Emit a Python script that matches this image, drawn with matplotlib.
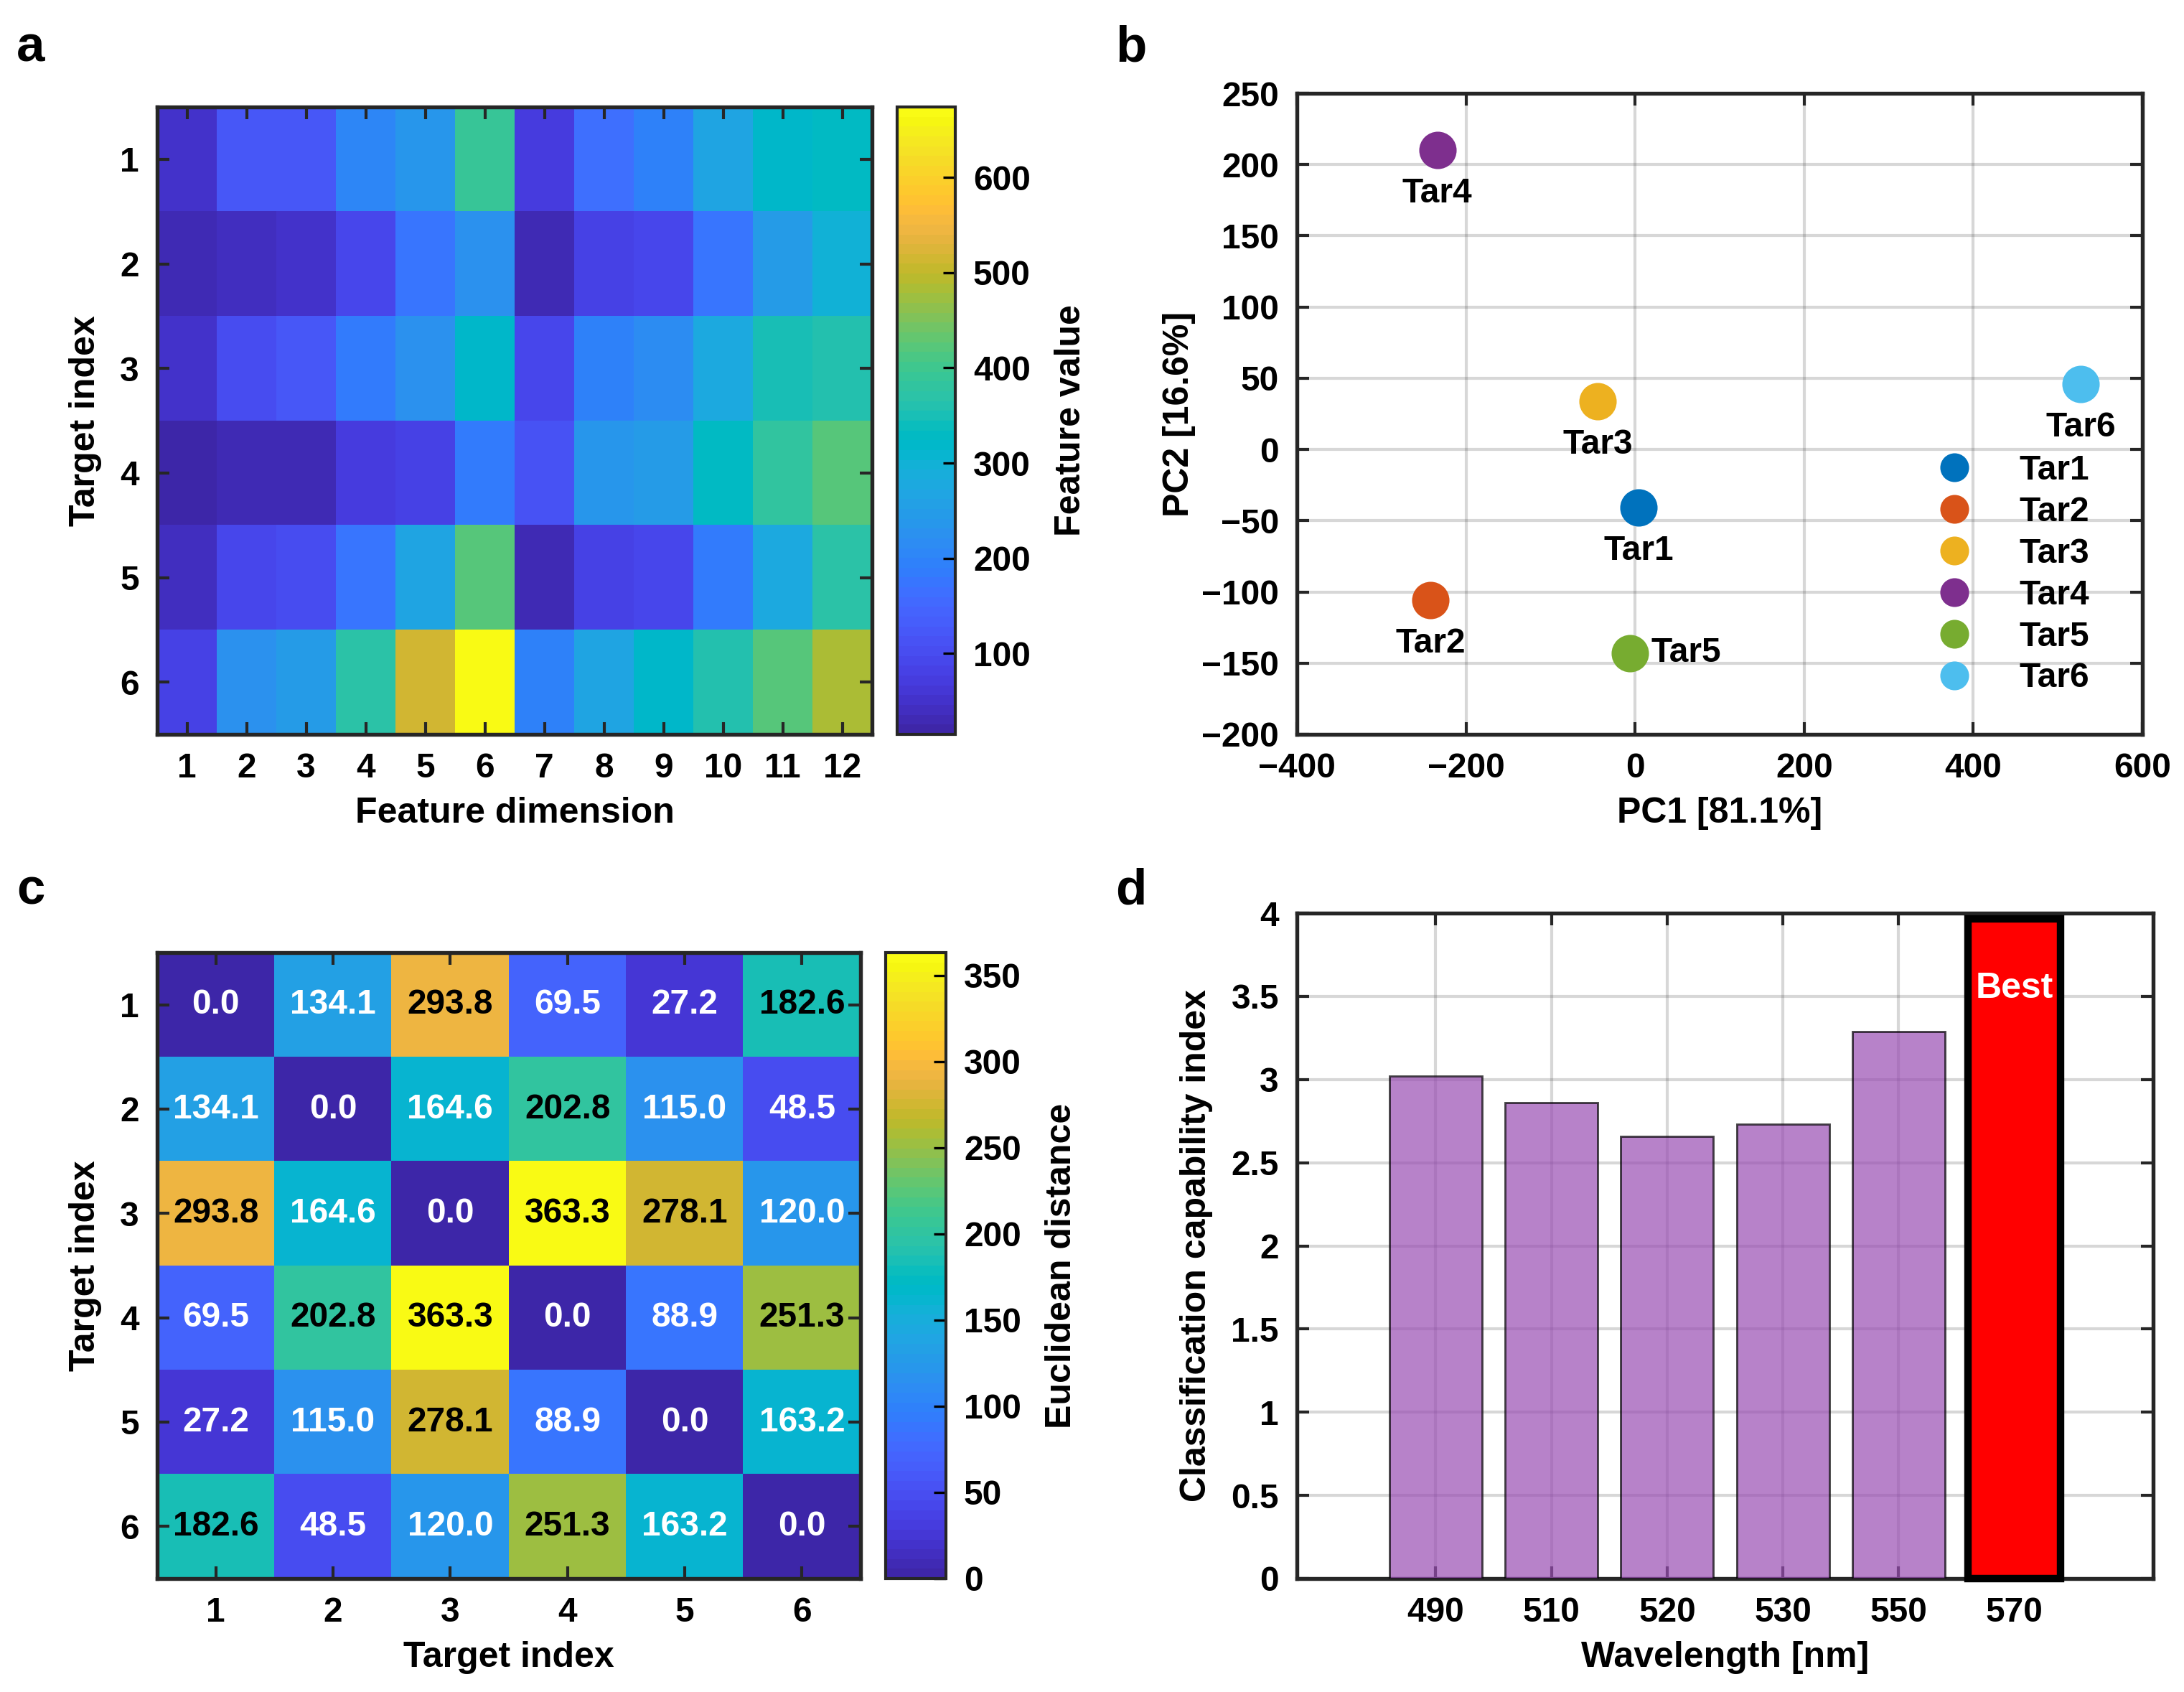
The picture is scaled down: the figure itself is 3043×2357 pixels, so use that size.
import numpy as np
import matplotlib
matplotlib.use("Agg")
import matplotlib.pyplot as plt
from matplotlib.colors import ListedColormap
from matplotlib.ticker import FuncFormatter

plt.rcParams['font.family'] = ['Liberation Sans', 'DejaVu Sans']
plt.rcParams['font.weight'] = 'bold'
plt.rcParams['axes.labelweight'] = 'bold'

# ---------------- data ----------------
feat_dims = list(range(1, 13))
target_idx = list(range(1, 7))
feature_values = [
    [55, 120, 125, 205, 240, 390, 70, 160, 195, 265, 315, 325],
    [30, 40, 50, 95, 170, 230, 30, 80, 92, 175, 245, 300],
    [50, 105, 118, 190, 225, 315, 95, 195, 215, 280, 345, 360],
    [15, 28, 33, 68, 82, 185, 115, 240, 245, 330, 385, 425],
    [42, 88, 102, 170, 270, 425, 35, 82, 92, 185, 280, 370],
    [85, 225, 250, 375, 515, 674, 200, 270, 315, 355, 425, 485],
]

pc_labels = ['Tar1', 'Tar2', 'Tar3', 'Tar4', 'Tar5', 'Tar6']
pc1 = [4, -242, -44, -234, -6, 527]
pc2 = [-41, -106, 34, 210, -143, 46]

distances = [
    [0.0, 134.1, 293.8, 69.5, 27.2, 182.6],
    [134.1, 0.0, 164.6, 202.8, 115.0, 48.5],
    [293.8, 164.6, 0.0, 363.3, 278.1, 120.0],
    [69.5, 202.8, 363.3, 0.0, 88.9, 251.3],
    [27.2, 115.0, 278.1, 88.9, 0.0, 163.2],
    [182.6, 48.5, 120.0, 251.3, 163.2, 0.0],
]

wavelengths = ['490', '510', '520', '530', '550', '570']
cci = [3.02, 2.86, 2.66, 2.73, 3.29, 3.965]

# ---------------- style ----------------
parula_rgb = [
    (0.2422, 0.1504, 0.6603), (0.2504, 0.1650, 0.7076), (0.2578, 0.1818, 0.7511),
    (0.2647, 0.1978, 0.7952), (0.2706, 0.2147, 0.8364), (0.2751, 0.2342, 0.8710),
    (0.2783, 0.2559, 0.8991), (0.2803, 0.2782, 0.9221), (0.2813, 0.3006, 0.9414),
    (0.2810, 0.3228, 0.9579), (0.2795, 0.3447, 0.9717), (0.2760, 0.3667, 0.9829),
    (0.2699, 0.3892, 0.9906), (0.2602, 0.4123, 0.9952), (0.2440, 0.4358, 0.9988),
    (0.2206, 0.4603, 0.9973), (0.1963, 0.4847, 0.9892), (0.1834, 0.5074, 0.9798),
    (0.1786, 0.5289, 0.9682), (0.1764, 0.5499, 0.9520), (0.1687, 0.5703, 0.9359),
    (0.1540, 0.5902, 0.9218), (0.1460, 0.6091, 0.9079), (0.1380, 0.6276, 0.8973),
    (0.1248, 0.6459, 0.8883), (0.1113, 0.6635, 0.8763), (0.0952, 0.6798, 0.8598),
    (0.0689, 0.6948, 0.8394), (0.0297, 0.7082, 0.8163), (0.0036, 0.7197, 0.7917),
    (0.0067, 0.7301, 0.7660), (0.0433, 0.7394, 0.7394), (0.0964, 0.7481, 0.7120),
    (0.1408, 0.7559, 0.6842), (0.1717, 0.7631, 0.6554), (0.1938, 0.7697, 0.6251),
    (0.2161, 0.7752, 0.5923), (0.2470, 0.7791, 0.5567), (0.2906, 0.7805, 0.5188),
    (0.3406, 0.7790, 0.4789), (0.3909, 0.7750, 0.4360), (0.4456, 0.7685, 0.3951),
    (0.5044, 0.7615, 0.3480), (0.5616, 0.7548, 0.3032), (0.6174, 0.7480, 0.2560),
    (0.6720, 0.7394, 0.2117), (0.7242, 0.7300, 0.1818), (0.7730, 0.7232, 0.1773),
    (0.8203, 0.7164, 0.1961), (0.8635, 0.7096, 0.2218), (0.9019, 0.7076, 0.2445),
    (0.9372, 0.7120, 0.2551), (0.9666, 0.7253, 0.2416), (0.9904, 0.7431, 0.2199),
    (0.9978, 0.7656, 0.1935), (0.9932, 0.7880, 0.1781), (0.9855, 0.8118, 0.1676),
    (0.9749, 0.8354, 0.1604), (0.9655, 0.8597, 0.1520), (0.9603, 0.8853, 0.1440),
    (0.9594, 0.9100, 0.1277), (0.9614, 0.9379, 0.1040), (0.9661, 0.9656, 0.0716),
    (0.9769, 0.9839, 0.0805),
]
parula = ListedColormap(parula_rgb, name='parula')
matlab_colors = [(0, 0.447, 0.741), (0.85, 0.325, 0.098), (0.929, 0.694, 0.125),
                 (0.494, 0.184, 0.556), (0.466, 0.674, 0.188), (0.301, 0.745, 0.933)]
spine_c = (0.15, 0.15, 0.15)
FS = 11.5

def style_axes(ax, lw=1.3):
    for s in ax.spines.values():
        s.set_linewidth(lw)
        s.set_color(spine_c)
    ax.tick_params(direction='in', top=True, right=True, length=4, width=1.0,
                   labelsize=FS, color=spine_c, pad=6)
    for lab in ax.get_xticklabels() + ax.get_yticklabels():
        lab.set_fontweight('bold')

W, H = 3043, 2357
fig = plt.figure(figsize=(W / 300, H / 300), dpi=300)

def pos(l, t, r, b):
    return [l / W, 1 - b / H, (r - l) / W, (b - t) / H]

# ---------------- panel a ----------------
axa = fig.add_axes(pos(219, 149, 1215, 1023))
fv = np.array(feature_values)
ima = axa.imshow(fv, cmap=parula, aspect='auto', vmin=fv.min(), vmax=fv.max(),
                 extent=(0.5, 12.5, 6.5, 0.5), interpolation='nearest')
axa.set_xticks(feat_dims)
axa.set_yticks(target_idx)
axa.set_xlabel('Feature dimension', fontsize=FS + 0.5, labelpad=4)
axa.set_ylabel('Target index', fontsize=FS + 0.5, labelpad=6)
style_axes(axa)
caxa = fig.add_axes(pos(1250, 149, 1331, 1023))
cba = fig.colorbar(ima, cax=caxa, ticks=[100, 200, 300, 400, 500, 600])
cba.outline.set_linewidth(1.0)
cba.outline.set_edgecolor(spine_c)
caxa.tick_params(direction='in', length=4, labelsize=FS, pad=6)
for lab in caxa.get_yticklabels():
    lab.set_fontweight('bold')
cba.set_label('Feature value', fontsize=FS + 0.5, fontweight='bold', labelpad=8)

# ---------------- panel b ----------------
axb = fig.add_axes(pos(1807, 130, 2985, 1023))
axb.set_axisbelow(True)
axb.grid(True, color=(0.15, 0.15, 0.15), alpha=0.18, linewidth=1.0)
for i, lab in enumerate(pc_labels):
    axb.plot(pc1[i], pc2[i], 'o', color=matlab_colors[i], markersize=11.5,
             linestyle='none', label=lab)
    if lab == 'Tar5':
        axb.annotate(lab, (pc1[i], pc2[i]), xytext=(7, 0), textcoords='offset points',
                     ha='left', va='center', fontsize=FS, fontweight='bold')
    else:
        axb.annotate(lab, (pc1[i], pc2[i]), xytext=(0, -14.5), textcoords='offset points',
                     ha='center', va='center', fontsize=FS, fontweight='bold')
axb.set_xlim(-400, 600)
axb.set_ylim(-200, 250)
axb.set_xticks(np.arange(-400, 601, 200))
axb.set_yticks(np.arange(-200, 251, 50))
axb.set_xlabel('PC1 [81.1%]', fontsize=FS + 0.5, labelpad=4)
axb.set_ylabel('PC2 [16.6%]', fontsize=FS + 0.5, labelpad=2)
style_axes(axb)
leg = axb.legend(loc='upper left', bbox_to_anchor=(0.757, 0.437), frameon=False,
                 borderaxespad=0, borderpad=0, handlelength=1.0, handletextpad=1.4,
                 labelspacing=0.27, prop={'weight': 'bold', 'size': FS}, markerscale=0.75)

# ---------------- panel c ----------------
axc = fig.add_axes(pos(219, 1327, 1199, 2199))
dm = np.array(distances)
imc = axc.imshow(dm, cmap=parula, aspect='auto', vmin=0, vmax=dm.max(),
                 extent=(0.5, 6.5, 6.5, 0.5), interpolation='nearest')
for r in range(dm.shape[0]):
    for c in range(dm.shape[1]):
        v = dm[r, c]
        col = 'black' if v > 0.47 * dm.max() else 'white'
        axc.text(c + 1, r + 1, f'{v:.1f}', ha='center', va='center', color=col,
                 fontsize=FS, fontweight='bold')
axc.set_xticks(target_idx)
axc.set_yticks(target_idx)
axc.set_xlabel('Target index', fontsize=FS + 0.5, labelpad=4)
axc.set_ylabel('Target index', fontsize=FS + 0.5, labelpad=6)
style_axes(axc)
caxc = fig.add_axes(pos(1234, 1327, 1318, 2199))
cbc = fig.colorbar(imc, cax=caxc, ticks=np.arange(0, 351, 50))
cbc.outline.set_linewidth(1.0)
cbc.outline.set_edgecolor(spine_c)
caxc.tick_params(direction='in', length=4, labelsize=FS, pad=6)
for lab in caxc.get_yticklabels():
    lab.set_fontweight('bold')
cbc.set_label('Euclidean distance', fontsize=FS + 0.5, fontweight='bold', labelpad=8)

# ---------------- panel d ----------------
axd = fig.add_axes(pos(1807, 1272, 3000, 2199))
axd.set_axisbelow(True)
axd.grid(True, color=(0.15, 0.15, 0.15), alpha=0.18, linewidth=1.0)
xpos = np.arange(1, len(wavelengths) + 1)
best = int(np.argmax(cci))
for i, (x, v) in enumerate(zip(xpos, cci)):
    if i == best:
        axd.bar(x, v, width=0.8, color=(1, 0, 0), edgecolor='black', linewidth=2.5,
                zorder=3, clip_on=False)
        axd.text(x, v - 0.42, 'Best', ha='center', va='center', color='white',
                 fontsize=FS + 0.5, fontweight='bold', zorder=4)
    else:
        axd.bar(x, v, width=0.8, color=(0.60, 0.30, 0.70), alpha=0.7,
                edgecolor='black', linewidth=0.7, zorder=3)
axd.set_xlim(-0.2, 7.2)
axd.set_ylim(0, 4)
axd.set_xticks(xpos)
axd.set_xticklabels(wavelengths)
axd.set_yticks(np.arange(0, 4.01, 0.5))
axd.yaxis.set_major_formatter(FuncFormatter(lambda v, p: f'{v:g}'))
axd.set_xlabel('Wavelength [nm]', fontsize=FS + 0.5, labelpad=4)
axd.set_ylabel('Classification capability index', fontsize=FS + 0.5, labelpad=6)
style_axes(axd)

# panel letters
for lab, (x, y) in zip('abcd', [(43, 68), (1576, 68), (43, 1242), (1576, 1242)]):
    fig.text(x / W, 1 - y / H, lab, fontsize=17, fontweight='bold', ha='center', va='center')

fig.savefig('out.png', dpi=300)
